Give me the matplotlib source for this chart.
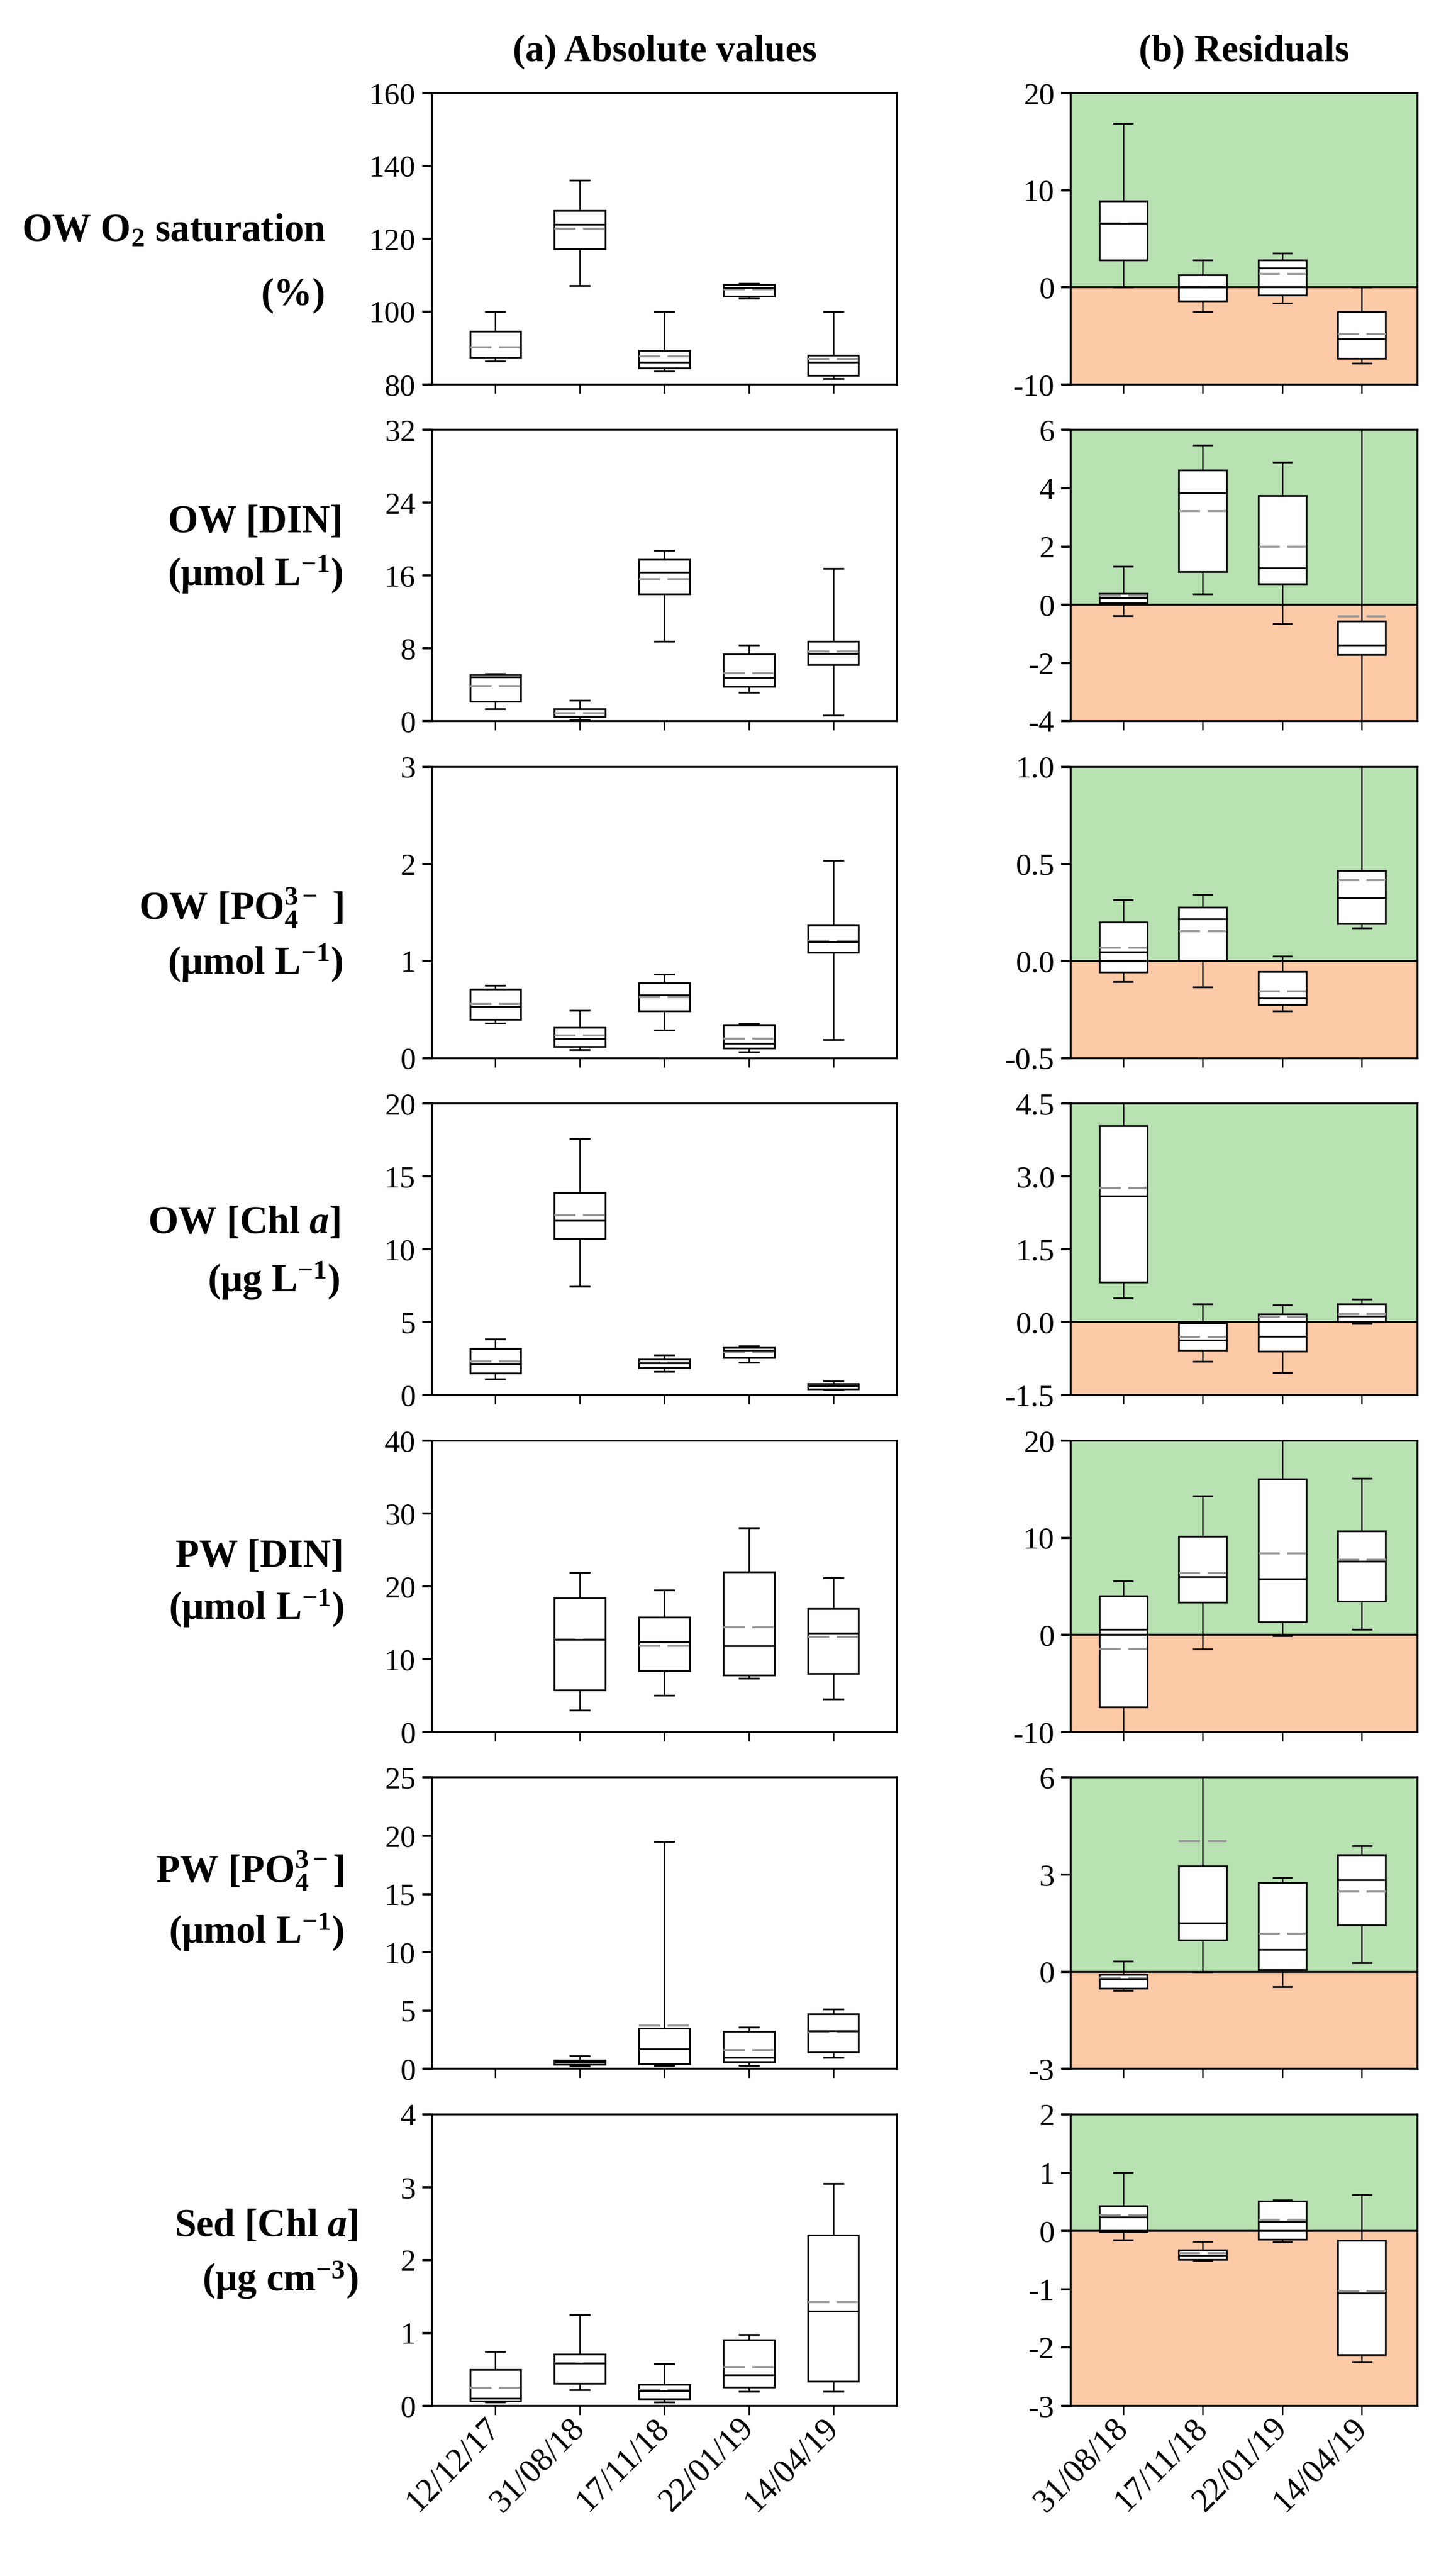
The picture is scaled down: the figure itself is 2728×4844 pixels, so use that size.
import matplotlib
matplotlib.use("Agg")
import matplotlib.pyplot as plt

plt.rcParams['font.family'] = 'Liberation Serif'
plt.rcParams['mathtext.fontset'] = 'custom'
plt.rcParams['mathtext.rm'] = 'Liberation Serif'
plt.rcParams['mathtext.bf'] = 'Liberation Serif:bold'
plt.rcParams['mathtext.it'] = 'Liberation Serif:italic'
plt.rcParams['mathtext.bfit'] = 'Liberation Serif:italic:bold'
plt.rcParams['axes.unicode_minus'] = False
plt.rcParams['lines.scale_dashes'] = False

# sampling dates
dates_abs = ['12/12/17', '31/08/18', '17/11/18', '22/01/19', '14/04/19']
dates_res = ['31/08/18', '17/11/18', '22/01/19', '14/04/19']

# each row: [whisker low, q1, median, mean, q3, whisker high]
o2_abs = [[86.4, 87.3, 87.4, 90.2, 94.6, 100.0],
          [107.2, 117.2, 123.9, 122.8, 127.7, 136.1],
          [83.6, 84.5, 86.2, 87.7, 89.3, 100.0],
          [103.7, 104.2, 106.6, 106.2, 107.5, 107.8],
          [81.6, 82.5, 86.1, 87.0, 88.1, 100.0]]
o2_res = [[0.0, 2.8, 6.6, 6.6, 8.9, 16.9],
          [-2.5, -1.4, 0.0, 0.0, 1.3, 2.8],
          [-1.6, -0.8, 2.0, 1.4, 2.8, 3.5],
          [-7.8, -7.3, -5.3, -4.8, -2.5, 0.0]]

din_abs = [[1.35, 2.2, 4.9, 3.9, 5.1, 5.2],
           [0.16, 0.47, 0.58, 0.93, 1.4, 2.33],
           [8.8, 14.0, 16.4, 15.6, 17.8, 18.8],
           [3.2, 3.8, 4.8, 5.3, 7.4, 8.4],
           [0.7, 6.2, 7.45, 7.7, 8.8, 16.8]]
din_res = [[-0.38, 0.06, 0.24, 0.31, 0.39, 1.32],
           [0.37, 1.14, 3.83, 3.22, 4.62, 5.48],
           [-0.65, 0.71, 1.27, 2.0, 3.75, 4.9],
           [-5.0, -1.71, -1.39, -0.4, -0.56, 8.0]]

po4_abs = [[0.36, 0.40, 0.53, 0.56, 0.71, 0.75],
           [0.09, 0.12, 0.20, 0.235, 0.315, 0.49],
           [0.29, 0.485, 0.65, 0.63, 0.78, 0.865],
           [0.067, 0.104, 0.152, 0.202, 0.339, 0.354],
           [0.19, 1.09, 1.20, 1.21, 1.37, 2.035]]
po4_res = [[-0.107, -0.057, 0.047, 0.068, 0.2, 0.317],
           [-0.134, 0.0, 0.216, 0.154, 0.277, 0.344],
           [-0.257, -0.223, -0.191, -0.155, -0.054, 0.025],
           [0.171, 0.192, 0.326, 0.418, 0.467, 1.3]]

chl_abs = [[1.11, 1.5, 2.13, 2.31, 3.18, 3.85],
           [7.48, 10.74, 11.99, 12.35, 13.89, 17.62],
           [1.62, 1.87, 2.2, 2.25, 2.46, 2.77],
           [2.25, 2.58, 3.1, 2.92, 3.25, 3.36],
           [0.4, 0.43, 0.63, 0.6, 0.78, 0.96]]
chl_res = [[0.5, 0.83, 2.6, 2.76, 4.05, 5.0],
           [-0.81, -0.57, -0.37, -0.3, -0.02, 0.38],
           [-1.03, -0.6, -0.29, 0.12, 0.17, 0.36],
           [-0.03, 0.0, 0.13, 0.17, 0.38, 0.48]]

pwdin_abs = [None,
             [2.99, 5.76, 12.72, 12.72, 18.36, 21.88],
             [5.07, 8.42, 12.39, 11.85, 15.8, 19.5],
             [7.4, 7.79, 11.79, 14.36, 21.94, 28.03],
             [4.54, 8.0, 13.61, 13.07, 16.96, 21.19]]
pwdin_res = [[-11.0, -7.42, 0.57, -1.45, 4.0, 5.55],
             [-1.45, 3.38, 6.0, 6.36, 10.14, 14.31],
             [-0.1, 1.31, 5.77, 8.37, 16.08, 22.0],
             [0.58, 3.49, 7.56, 7.74, 10.72, 16.1]]

pwpo4_abs = [None,
             [0.23, 0.41, 0.6, 0.55, 0.75, 1.13],
             [0.28, 0.45, 1.71, 3.73, 3.47, 19.5],
             [0.28, 0.6, 0.98, 1.63, 3.23, 3.57],
             [0.98, 1.44, 3.27, 3.17, 4.73, 5.11]]
pwpo4_res = [[-0.58, -0.51, -0.21, -0.19, -0.09, 0.32],
             [0.0, 0.99, 1.51, 4.04, 3.26, 7.0],
             [-0.46, 0.07, 0.69, 1.18, 2.76, 2.9],
             [0.27, 1.45, 2.84, 2.48, 3.61, 3.89]]

sed_abs = [[0.05, 0.066, 0.105, 0.246, 0.5, 0.748],
           [0.222, 0.306, 0.586, 0.586, 0.706, 1.25],
           [0.05, 0.096, 0.201, 0.222, 0.291, 0.577],
           [0.195, 0.255, 0.426, 0.532, 0.907, 0.98],
           [0.195, 0.336, 1.3, 1.42, 2.34, 3.05]]
sed_res = [[-0.15, -0.02, 0.24, 0.28, 0.43, 1.01],
           [-0.51, -0.49, -0.42, -0.38, -0.33, -0.18],
           [-0.19, -0.14, 0.16, 0.19, 0.51, 0.53],
           [-2.24, -2.12, -1.07, -1.03, -0.16, 0.62]]

abs_data = [o2_abs, din_abs, po4_abs, chl_abs, pwdin_abs, pwpo4_abs, sed_abs]
res_data = [o2_res, din_res, po4_res, chl_res, pwdin_res, pwpo4_res, sed_res]

abs_ticks = [[80, 100, 120, 140, 160], [0, 8, 16, 24, 32], [0, 1, 2, 3],
             [0, 5, 10, 15, 20], [0, 10, 20, 30, 40], [0, 5, 10, 15, 20, 25],
             [0, 1, 2, 3, 4]]
res_ticks = [[-10, 0, 10, 20], [-4, -2, 0, 2, 4, 6], [-0.5, 0.0, 0.5, 1.0],
             [-1.5, 0.0, 1.5, 3.0, 4.5], [-10, 0, 10, 20], [-3, 0, 3, 6],
             [-3, -2, -1, 0, 1, 2]]
res_fmt = ['%d', '%d', '%.1f', '%.1f', '%d', '%d', '%d']

row_labels = [(r'OW O$_\mathbf{2}$ saturation', '(%)'),
              ('OW [DIN]', r'($\mathbf{\mu}$mol L$^{\mathbf{-1}}$)'),
              (r'OW [PO$_\mathbf{4}^{\mathbf{3-}}$ ]', r'($\mathbf{\mu}$mol L$^{\mathbf{-1}}$)'),
              (r'OW [Chl $\mathbfit{a}$]', r'($\mathbf{\mu}$g L$^{\mathbf{-1}}$)'),
              ('PW [DIN]', r'($\mathbf{\mu}$mol L$^{\mathbf{-1}}$)'),
              (r'PW [PO$_\mathbf{4}^{\mathbf{3-}}$]', r'($\mathbf{\mu}$mol L$^{\mathbf{-1}}$)'),
              (r'Sed [Chl $\mathbfit{a}$]', r'($\mathbf{\mu}$g cm$^{\mathbf{-3}}$)')]

W, H = 2729, 4844
fig = plt.figure(figsize=(W / 300, H / 300), dpi=300)

green = '#b9e2b3'
orange = '#fdcaa8'

# label placement (pixels) per row: right edge, offset of line 1, offset of line 2
lab_x = [612, 645, 645, 639, 647, 647, 673]
lab_dy = [(-13, 107), (-100, -3), (-10, 95), (-49, 58), (-56, 41), (-99, 16), (-64, 37)]


def stats_from(rows):
    out, pos = [], []
    for i, r in enumerate(rows):
        if r is None:
            continue
        out.append(dict(whislo=r[0], q1=r[1], med=r[2], mean=r[3], q3=r[4],
                        whishi=r[5], fliers=[]))
        pos.append(i + 1)
    return out, pos


def draw_boxes(ax, rows):
    st, pos = stats_from(rows)
    ax.bxp(st, positions=pos, widths=0.6, patch_artist=True, showmeans=True,
           meanline=True, showfliers=False, manage_ticks=False, capwidths=0.23,
           boxprops=dict(facecolor='white', edgecolor='black', linewidth=0.8),
           medianprops=dict(color='black', linewidth=0.8, zorder=2.3),
           meanprops=dict(color='#959595', linestyle=(0, (9.6, 3.4)),
                          linewidth=0.9, zorder=2.2),
           whiskerprops=dict(color='black', linewidth=0.6),
           capprops=dict(color='black', linewidth=0.8))


def style(ax, ticks, labels, fmt):
    for s in ax.spines.values():
        s.set_linewidth(0.85)
    ax.set_yticks(ticks)
    ax.set_yticklabels([fmt % t for t in ticks])
    ax.set_ylim(ticks[0], ticks[-1])
    ax.tick_params(axis='y', direction='out', length=4.3, width=1.0,
                   labelsize=14, pad=3)
    ax.tick_params(axis='x', direction='out', length=4.0, width=0.6,
                   labelsize=15, pad=4)
    if labels is None:
        ax.set_xticklabels([])
    else:
        ax.set_xticklabels(labels, rotation=45, ha='right', va='center',
                           rotation_mode='anchor')


for i in range(7):
    top = 175 + 633.5 * i
    bottom = 1 - (top + 548) / H
    last = i == 6

    axa = fig.add_axes([812 / W, bottom, 874 / W, 548 / H])
    draw_boxes(axa, abs_data[i])
    axa.set_xlim(0.25, 5.75)
    axa.set_xticks(range(1, 6))
    style(axa, abs_ticks[i], dates_abs if last else None, '%d')

    axr = fig.add_axes([2013 / W, bottom, 652 / W, 548 / H])
    lo, hi = res_ticks[i][0], res_ticks[i][-1]
    axr.axhspan(0, hi, color=green, zorder=0, lw=0)
    axr.axhspan(lo, 0, color=orange, zorder=0, lw=0)
    draw_boxes(axr, res_data[i])
    axr.axhline(0, color='black', lw=0.85, zorder=3)
    axr.set_xlim(0.34, 4.7)
    axr.set_xticks(range(1, 5))
    style(axr, res_ticks[i], dates_res if last else None, res_fmt[i])

    c = top + 274
    l1, l2 = row_labels[i]
    fig.text(lab_x[i] / W, 1 - (c + lab_dy[i][0]) / H, l1, ha='right', va='center',
             fontsize=17.5, fontweight='bold')
    fig.text(lab_x[i] / W, 1 - (c + lab_dy[i][1]) / H, l2, ha='right', va='center',
             fontsize=17.5, fontweight='bold')

fig.text(1250 / W, 1 - 97 / H, '(a) Absolute values', ha='center', va='center',
         fontsize=17, fontweight='bold')
fig.text(2339 / W, 1 - 97 / H, '(b) Residuals', ha='center', va='center',
         fontsize=17, fontweight='bold')

fig.savefig('out.png', dpi=300)
